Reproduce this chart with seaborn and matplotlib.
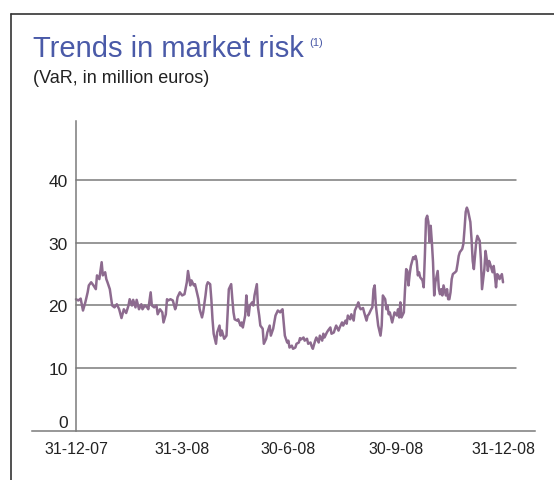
import pandas as pd
import matplotlib.pyplot as plt
import matplotlib.dates as mdates
import matplotlib.transforms as mtransforms
from matplotlib.lines import Line2D
import seaborn as sns

# Daily VaR (days counted from 31-12-07, values in million euros)
start = pd.Timestamp("2007-12-31")

days = [
    0, 2, 4, 6, 8, 10, 11, 13, 15, 17, 18, 20, 22, 23, 25, 26, 27, 29, 30, 31,
    33, 35, 37, 39, 41, 43, 45, 46, 48, 49, 51, 52, 54, 56, 57, 59, 61, 62, 64, 65,
    67, 69, 70, 72, 74, 75, 77, 78, 79, 81, 83, 85, 86, 87, 89,
    91, 93, 95, 96, 98, 99, 101, 102, 103, 105, 106, 108, 109, 111, 112, 113, 115, 116, 117, 118,
    120, 121, 123, 124, 125, 127, 129, 130, 131, 133, 134, 135, 136, 138, 139, 141, 142, 143, 145, 146,
    147, 148, 149, 151, 152, 153, 155, 156, 157, 158, 160, 161, 163, 164, 166, 167, 169, 171, 173,
    175, 176, 177, 178, 179, 181, 182, 183, 185, 186, 188, 189, 191, 192, 193, 195, 196, 198, 199, 201,
    202, 203, 205, 206, 208, 209, 211, 212, 213, 215, 216, 218, 219, 221, 222, 223, 225, 226, 228, 229,
    231, 232, 233, 235, 236, 238, 239, 241, 242, 243, 244, 246, 247, 249, 250, 251, 253, 254, 255, 256,
    257, 258, 259,
    261, 262, 263, 265, 266, 267, 268, 269, 271, 272, 273, 275, 276, 277, 278, 279, 281, 282, 283, 284,
    285, 286, 287, 289, 290, 291, 292, 293, 294, 295, 297, 298, 299, 300, 301, 302, 303,
    304, 305, 306, 307, 308, 310, 311, 312, 313, 314, 315, 317, 318, 319, 320, 321, 322, 323, 325, 326,
    327, 328, 329, 331, 332, 333, 334, 335, 336, 338, 339, 340, 341, 342, 343, 344, 346, 347, 348, 349,
    350, 351, 352, 353, 354, 355, 357, 358, 359, 360, 361, 362, 363, 365, 366,
]

var = [
    21.0, 20.8, 21.1, 19.2, 20.5, 22.1, 23.2, 23.7, 23.2, 22.6, 24.8, 24.2, 26.9, 24.8, 25.3, 24.2, 23.7, 22.6, 21.3, 20.0,
    19.7, 20.2, 19.4, 18.0, 19.4, 18.8, 20.0, 21.0, 20.0, 20.9, 19.7, 20.9, 19.4, 20.2, 19.4, 20.0, 19.7, 19.4, 22.1, 20.0,
    19.7, 20.0, 18.6, 19.4, 18.9, 17.3, 18.6, 21.0, 20.8, 21.0, 20.8, 19.4, 20.0, 21.3, 22.1,
    21.6, 21.8, 23.7, 25.5, 23.2, 24.0, 23.2, 23.4, 22.6, 21.0, 19.4, 18.1, 18.9, 21.6, 23.2, 23.7, 23.4, 21.0, 17.8, 15.5,
    13.9, 15.7, 16.8, 15.2, 16.0, 14.7, 15.2, 18.9, 22.6, 23.4, 21.0, 18.9, 17.8, 17.6, 17.8, 16.8, 17.3, 16.5, 18.4, 21.6,
    19.4, 18.4, 20.0, 20.5, 20.0, 21.6, 23.4, 19.7, 18.4, 16.8, 16.3, 13.9, 14.7, 15.7, 16.8, 15.2, 16.3, 18.4, 19.2,
    18.9, 19.2, 19.4, 17.3, 15.2, 14.1, 14.4, 13.3, 13.6, 13.1, 13.3, 13.9, 14.1, 14.8, 14.6, 14.9, 14.4, 14.7, 13.9, 14.1,
    13.5, 13.1, 14.4, 14.9, 14.1, 15.2, 14.4, 15.5, 14.9, 15.7, 16.0, 16.5, 15.5, 15.7, 16.3, 16.8, 16.0, 16.5, 17.3, 16.8,
    17.6, 17.1, 18.4, 17.8, 18.6, 17.6, 19.2, 20.0, 20.5, 19.7, 19.4, 19.6, 18.9, 17.6, 18.4, 18.6, 19.4, 19.7, 22.6, 23.2,
    20.0, 18.4, 16.8,
    15.2, 16.8, 21.6, 21.0, 19.4, 20.0, 18.6, 18.9, 17.3, 18.1, 18.9, 18.4, 19.4, 18.1, 20.5, 18.1, 18.9, 22.6, 25.8, 25.5,
    23.2, 25.0, 26.3, 27.7, 27.4, 27.9, 27.1, 24.8, 25.3, 24.5, 24.0, 22.9, 27.9, 33.8, 34.3, 33.3, 30.1,
    32.7, 30.1, 26.9, 21.6, 23.7, 25.5, 22.6, 21.8, 22.6, 21.6, 23.2, 21.6, 22.6, 21.0, 21.0, 22.1, 24.2, 25.0, 25.3, 25.5,
    26.6, 27.9, 28.5, 29.0, 29.8, 32.2, 34.9, 35.6, 35.1, 33.3, 30.6, 27.1, 25.8, 27.9, 30.1, 31.1, 30.3, 27.4, 22.6, 24.2,
    25.8, 28.7, 27.4, 25.5, 27.1, 26.6, 25.3, 26.3, 24.8, 22.9, 25.0, 24.8, 24.2, 25.0, 23.7,
]

tick_dates = ["2007-12-31", "2008-03-31", "2008-06-30", "2008-09-30", "2008-12-31"]
tick_labels = ["31-12-07", "31-3-08", "30-6-08", "30-9-08", "31-12-08"]
y_ticks = [0, 10, 20, 30, 40]

df = pd.DataFrame({"date": start + pd.to_timedelta(days, unit="D"), "VaR": var})

sns.set_style("white")
plt.rcParams["font.family"] = ["Liberation Sans", "DejaVu Sans"]

axis_grey = "#7a7a7a"
line_colour = "#8d6b8f"

fig = plt.figure(figsize=(5.54, 4.81), dpi=100)
ax = fig.add_axes([32 / 554, 1 - 432 / 481, 503 / 554, 310 / 481])

sns.lineplot(data=df, x="date", y="VaR", ax=ax, color=line_colour, linewidth=1.8)

# horizontal guide lines stop short of the axis end
for y in y_ticks[1:]:
    ax.plot([start, start + pd.Timedelta(days=377)], [y, y], color=axis_grey,
            linewidth=1.1, zorder=1)

ax.set_xlim(start - pd.Timedelta(days=37.7), start + pd.Timedelta(days=393.4))
ax.set_ylim(0, 49.4)

for side in ["top", "right"]:
    ax.spines[side].set_visible(False)
ax.spines["left"].set_position(("data", mdates.date2num(start)))
for side in ["left", "bottom"]:
    ax.spines[side].set_color(axis_grey)
    ax.spines[side].set_linewidth(1.1)

ax.set_xticks(pd.to_datetime(tick_dates))
ax.set_xticklabels(tick_labels)
ax.set_yticks(y_ticks)
ax.tick_params(axis="both", colors=axis_grey, labelcolor="#222222",
               width=1.1, direction="out")
ax.tick_params(axis="x", length=4, pad=3, labelsize=11.5)
ax.tick_params(axis="y", length=3, pad=3, labelsize=12.5)
ax.set_xlabel("")
ax.set_ylabel("")
ax.grid(False)

# the "0" label sits a little above the axis line
zero_label = ax.get_yticklabels()[0]
zero_label.set_transform(zero_label.get_transform()
                         + mtransforms.ScaledTranslation(0, 10 / 100, fig.dpi_scale_trans))

# titles
fig.text(33 / 554, 1 - 57 / 481, "Trends in market risk", color="#4a5aa8",
         fontsize=21, va="baseline", ha="left")
fig.text(309 / 554, 1 - 46 / 481, "(1)", color="#4a5aa8", fontsize=8,
         va="baseline", ha="left")
fig.text(33 / 554, 1 - 83 / 481, "(VaR, in million euros)", color="#222222",
         fontsize=13, va="baseline", ha="left")

# frame lines at the top and left
fig.add_artist(Line2D([11 / 554, 1], [1 - 15 / 481, 1 - 15 / 481],
                      color="#333333", linewidth=1.2))
fig.add_artist(Line2D([11 / 554, 11 / 554], [0, 1 - 15 / 481],
                      color="#333333", linewidth=1.2))

fig.savefig("out.png", dpi=100)
